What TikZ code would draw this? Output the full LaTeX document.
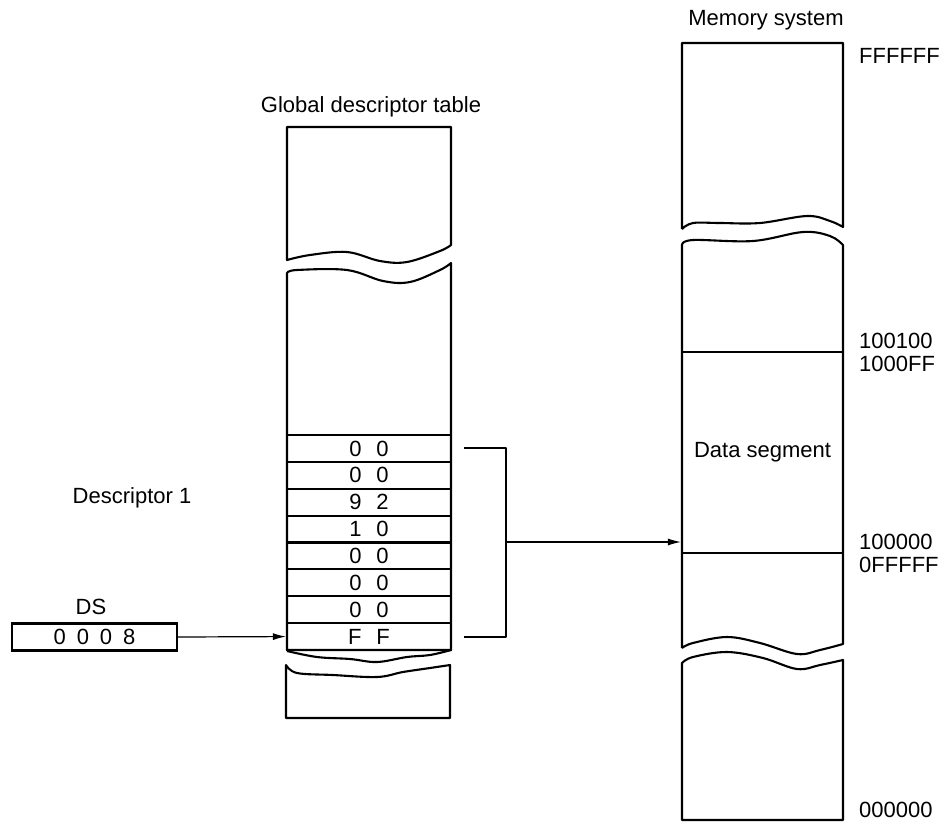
\documentclass[tikz,border=0pt]{standalone}
\usepackage{fontspec}
\setmainfont{Liberation Sans}
\usetikzlibrary{arrows.meta}
\newcommand\dgap{\hspace{15pt}}
\newcommand\sgap{\hspace{11pt}}
\begin{document}
\begin{tikzpicture}[x=1pt,y=-1pt,
  box/.style={line width=2.1pt, line join=round},
  conn/.style={line width=1.2pt},
  arr/.style={conn,-{Latex[length=13pt,width=7pt]}},
  lbl/.style={font=\fontsize{22}{26}\selectfont, inner sep=0pt},
  rowbox/.style={draw, line width=2.1pt, minimum width=164pt, minimum height=26.875pt,
    inner sep=0pt, font=\fontsize{22}{26}\selectfont},
  wave/.style={smooth, tension=0.6}]
\useasboundingbox (0,0) rectangle (949,822);

% ---------- Global descriptor table ----------
\node[lbl] (gdtl) at (371,107) {Global descriptor table};
% upper block
\draw[box] (287,127) -- (451,127) -- (451,245)
  -- plot[wave] coordinates {(451,245) (440,251) (407,262) (380,261) (347,252) (310,255) (287,260)} -- cycle;
% main block
\draw[box] (287,650) -- (287,273)
  -- plot[wave] coordinates {(287,273) (297,270) (347,270) (383,281) (410,282) (440,270) (451,263)}
  -- (451,650) -- cycle;
% rows
\foreach \i/\t in {1/0\dgap0, 2/0\dgap0, 3/9\dgap2, 4/1\dgap0, 5/0\dgap0, 6/0\dgap0, 7/0\dgap0, 8/F\dgap F}{
  \node[rowbox] (r\i) at (369, 435+26.875*\i-13.4375) {\t};
}
% torn edge below rows
\draw[box] plot[wave] coordinates {(287,651) (317,657) (350,659) (377,662) (407,657) (430,655) (451,650)};
% lower block
\draw[box] (286,718) -- (286,665)
  -- plot[wave] coordinates {(286,665) (297,673) (333,675) (377,677) (403,672) (430,668) (450,665)}
  -- (450,718) -- cycle;

\node[lbl] (desc) at (132,498) {Descriptor 1};

% ---------- DS register ----------
\node[lbl] (dsl) at (91,607) {DS};
\node[rowbox, minimum width=165pt, minimum height=27pt] (ds) at (94.5,637) {0\sgap0\sgap0\sgap8};
\draw[arr] (ds.east) -- (r8.west);

% ---------- Memory system ----------
\node[lbl] (meml) at (766,20) {Memory system};
\draw[box] (682,229) -- (682,43) -- (843,43) -- (843,227)
  -- plot[wave] coordinates {(843,227) (830,221) (807,216) (760,223) (720,223) (693,223) (682,229)};
\draw[box] (682,648) -- (682,245)
  -- plot[wave] coordinates {(682,245) (693,240) (753,241) (803,232) (830,236) (843,245)}
  -- (843,644)
  -- plot[wave] coordinates {(843,644) (820,650) (797,654) (760,643) (727,637) (693,643) (682,648)};
\draw[box] (682,820) -- (682,663)
  -- plot[wave] coordinates {(682,663) (693,657) (727,652) (763,658) (797,669) (820,665) (843,660)}
  -- (843,820) -- cycle;
\node[rowbox, minimum width=161pt, minimum height=201pt] (dseg) at (762.5,452.5) {Data segment};

\node[lbl, anchor=west] (a1) at (859,56) {FFFFFF};
\node[lbl, anchor=west] (a2) at (859,341) {100100};
\node[lbl, anchor=west] (a3) at (859,364) {1000FF};
\node[lbl, anchor=west] (a4) at (859,542) {100000};
\node[lbl, anchor=west] (a5) at (859,565) {0FFFFF};
\node[lbl, anchor=west] (a6) at (859,810) {000000};

% ---------- bracket and pointer ----------
\coordinate (brk) at (506,542);
\draw[box] ([xshift=12pt]r1.east) -| (brk) |- ([xshift=12pt]r8.east);
\draw[arr] (brk) -- (brk -| dseg.west);
\end{tikzpicture}
\end{document}
